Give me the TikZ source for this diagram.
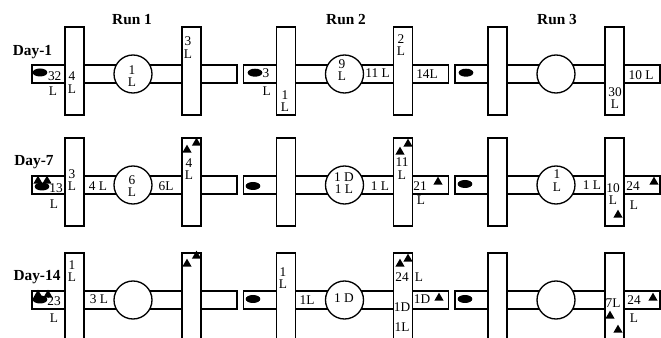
\documentclass[tikz,border=0pt]{standalone}
\usepackage{fontspec}
\setmainfont{Liberation Serif}
\usetikzlibrary{shapes.geometric}

\begin{document}
\begin{tikzpicture}[x=0.75pt, y=-0.75pt,
        tank/.style={draw, line width=1pt},
        lab/.style={inner sep=0pt, align=center, font=\fontsize{10}{9.5}\selectfont},
        head/.style={inner sep=0pt, font=\fontsize{11.5}{12}\selectfont\bfseries},
        blob/.style={ellipse, fill=black, inner sep=0pt, minimum width=11pt, minimum height=6pt},
        tri/.style={regular polygon, regular polygon sides=3, fill=black, inner sep=0pt, minimum size=8pt}
      ]
        \clip (0,0) rectangle (661,338);

        % tanks, pipes and pots
        \foreach \ox in {32,243.5,455}{
          \foreach \oy in {65,176,291}{
            \draw[tank] (\ox,\oy) rectangle (\ox+33,\oy+18);
            \draw[tank] (\ox+52,\oy) -- (\ox+150,\oy) (\ox+52,\oy+18) -- (\ox+150,\oy+18);
            \draw[tank, fill=white] (\ox+101,\oy+9) circle (19);
            \draw[tank] (\ox+33,\oy-38) rectangle (\ox+52,\oy+50);
            \draw[tank] (\ox+150,\oy-38) rectangle (\ox+169,\oy+50);
            \draw[tank] (\ox+169,\oy) rectangle (\ox+205,\oy+18);
          }
        }

        \node[head] (run1) at (132,20) {Run 1};
        \node[head] (run2) at (346,20) {Run 2};
        \node[head] (run3) at (557,20) {Run 3};
        \node[head] (day1)  at (32.5,52)  {Day-1};
        \node[head] (day7)  at (34,162)   {Day-7};
        \node[head] (day14) at (37,277)   {Day-14};

        % Day-1
        \node[blob] (a1e) at (40,72.5) {};
        \node[lab] (a1a) at (54.7,76) {32};
        \node[lab] (a1b) at (53,91) {L};
        \node[lab] (a1c) at (72,82.5) {4\\L};
        \node[lab] (a1d) at (132,76) {1\\L};
        \node[lab] (a1f) at (188,47.5) {3\\L};

        \node[blob] (b1e) at (255,72.7) {};
        \node[lab] (b1a) at (266,73) {3};
        \node[lab] (b1b) at (266.7,90.7) {L};
        \node[lab] (b1c) at (285,101) {1\\L};
        \node[lab] (b1d) at (342,70) {9\\L};
        \node[lab] (b1g) at (377.5,73) {11 L};
        \node[lab] (b1f) at (401,45) {2\\L};
        \node[lab] (b1h) at (427,74) {14L};

        \node[blob] (c1e) at (466,72.7) {};
        \node[lab] (c1f) at (615,98) {30\\L};
        \node[lab] (c1h) at (641,75) {10 L};

        % Day-7
        \node[tri] (a7t1) at (38,181) {};
        \node[tri] (a7t2) at (47,181) {};
        \node[blob] (a7e) at (42,186.5) {};
        \node[lab] (a7a) at (56,188) {13};
        \node[lab] (a7b) at (54,204) {L};
        \node[lab] (a7c) at (72,180) {3\\L};
        \node[lab] (a7g) at (98,186) {4 L};
        \node[lab] (a7d) at (132,186) {6\\L};
        \node[lab] (a7h) at (166,186) {6L};
        \node[tri] (a7t3) at (187,150) {};
        \node[tri] (a7t4) at (196.5,143) {};
        \node[lab] (a7f) at (189,169) {4\\L};

        \node[blob] (b7e) at (253,186) {};
        \node[lab] (b7d) at (344,183) {1 D\\1 L};
        \node[lab] (b7g) at (380,186) {1 L};
        \node[tri] (b7t1) at (400,152) {};
        \node[tri] (b7t2) at (408,144) {};
        \node[lab] (b7f) at (402,168.5) {11\\L};
        \node[lab] (b7h) at (420,186) {21};
        \node[tri] (b7t3) at (438,182) {};
        \node[lab] (b7i) at (421,200) {L};

        \node[blob] (c7e) at (465,184) {};
        \node[lab] (c7d) at (557,180.5) {1\\L};
        \node[lab] (c7g) at (592,185) {1 L};
        \node[lab] (c7f) at (613,194) {10\\L};
        \node[tri] (c7t1) at (618,215) {};
        \node[lab] (c7h) at (633,186) {24};
        \node[tri] (c7t2) at (654,182) {};
        \node[lab] (c7i) at (634,205) {L};

        % Day-14
        \node[tri] (a14t1) at (38,295) {};
        \node[tri] (a14t2) at (48,295) {};
        \node[blob] (a14e) at (40,299.5) {};
        \node[lab] (a14a) at (54,301) {23};
        \node[lab] (a14b) at (54,318) {L};
        \node[lab] (a14c) at (72,271) {1\\L};
        \node[lab] (a14g) at (99,299) {3 L};
        \node[tri] (a14t3) at (187,264) {};
        \node[tri] (a14t4) at (196.5,256) {};

        \node[blob] (b14e) at (253,299) {};
        \node[lab] (b14c) at (283,278) {1\\L};
        \node[lab] (b14g) at (307,300) {1L};
        \node[lab] (b14d) at (344,298) {1 D};
        \node[tri] (b14t1) at (400,264) {};
        \node[tri] (b14t2) at (408,259) {};
        \node[lab] (b14f) at (402,277) {24};
        \node[lab] (b14i) at (419,277) {L};
        \node[lab] (b14j) at (402,307) {1D};
        \node[lab] (b14k) at (402,327) {1L};
        \node[lab] (b14h) at (422,299) {1D};
        \node[tri] (b14t3) at (439,298) {};

        \node[blob] (c14e) at (465,299) {};
        \node[lab] (c14f) at (613,303) {7L};
        \node[tri] (c14t1) at (610,316) {};
        \node[tri] (c14t2) at (618,330) {};
        \node[lab] (c14h) at (634,300) {24};
        \node[tri] (c14t3) at (653,298) {};
        \node[lab] (c14i) at (634,318) {L};
      \end{tikzpicture}
\end{document}
